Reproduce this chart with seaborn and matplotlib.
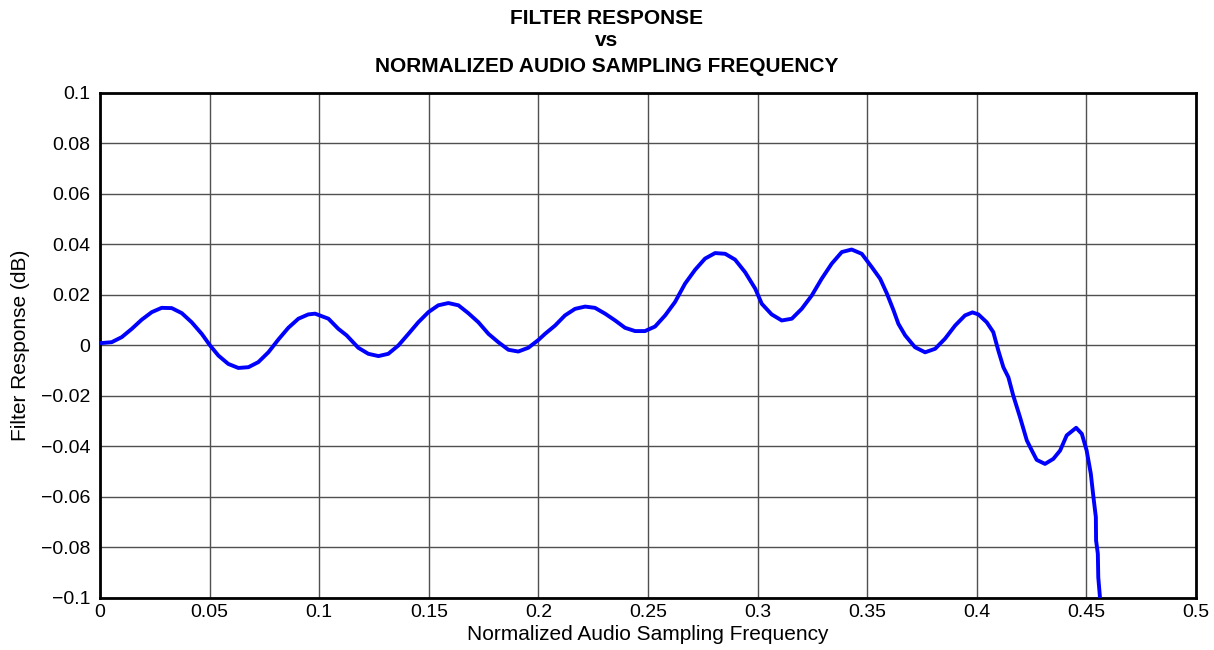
import pandas as pd
import matplotlib
matplotlib.use('Agg')
import matplotlib.pyplot as plt
import seaborn as sns

# Valores (frecuencia normalizada, respuesta en dB)
freq = [0.0000, 0.0053, 0.0099, 0.0145, 0.0190, 0.0236, 0.0281, 0.0327, 0.0373, 0.0418,
        0.0464, 0.0502, 0.0540, 0.0585, 0.0631, 0.0677, 0.0722, 0.0768, 0.0813, 0.0859,
        0.0905, 0.0950, 0.0981, 0.1042, 0.1087, 0.1125, 0.1178, 0.1224, 0.1270, 0.1315,
        0.1361, 0.1407, 0.1452, 0.1498, 0.1543, 0.1589, 0.1635, 0.1680, 0.1726, 0.1772,
        0.1817, 0.1863, 0.1908, 0.1954, 0.2000, 0.2030, 0.2076, 0.2121, 0.2167, 0.2213,
        0.2258, 0.2304, 0.2350, 0.2395, 0.2441, 0.2486, 0.2532, 0.2578, 0.2623, 0.2669,
        0.2715, 0.2760, 0.2806, 0.2852, 0.2897, 0.2943, 0.2989, 0.3019, 0.3064, 0.3110,
        0.3156, 0.3201, 0.3247, 0.3292, 0.3338, 0.3384, 0.3429, 0.3475, 0.3521, 0.3559,
        0.3590, 0.3620, 0.3642, 0.3673, 0.3718, 0.3764, 0.3810, 0.3855, 0.3901, 0.3946,
        0.3980, 0.4007, 0.4045, 0.4075, 0.4098, 0.4121, 0.4144, 0.4166, 0.4197, 0.4228,
        0.4251, 0.4273, 0.4311, 0.4349, 0.4380, 0.4410, 0.4453, 0.4479, 0.4501, 0.4520,
        0.4532, 0.4543, 0.4544, 0.4552, 0.4554, 0.4562, 0.4565]
response = [0.0009, 0.0013, 0.0033, 0.0066, 0.0102, 0.0132, 0.0149, 0.0148, 0.0128, 0.0092,
            0.0046, 0.0000, -0.0040, -0.0073, -0.0089, -0.0086, -0.0066, -0.0027, 0.0023, 0.0070,
            0.0106, 0.0123, 0.0126, 0.0106, 0.0066, 0.0040, -0.0009, -0.0033, -0.0042, -0.0033,
            0.0000, 0.0046, 0.0092, 0.0132, 0.0159, 0.0168, 0.0159, 0.0128, 0.0092, 0.0046,
            0.0013, -0.0017, -0.0024, -0.0009, 0.0022, 0.0046, 0.0079, 0.0119, 0.0145, 0.0154,
            0.0149, 0.0126, 0.0099, 0.0070, 0.0057, 0.0057, 0.0075, 0.0119, 0.0172, 0.0245,
            0.0300, 0.0344, 0.0366, 0.0363, 0.0340, 0.0290, 0.0225, 0.0165, 0.0123, 0.0099,
            0.0106, 0.0145, 0.0198, 0.0264, 0.0324, 0.0370, 0.0380, 0.0363, 0.0310, 0.0264,
            0.0205, 0.0139, 0.0086, 0.0040, -0.0007, -0.0027, -0.0013, 0.0027, 0.0079, 0.0119,
            0.0131, 0.0123, 0.0092, 0.0053, -0.0020, -0.0086, -0.0126, -0.0198, -0.0284, -0.0376,
            -0.0416, -0.0453, -0.0469, -0.0449, -0.0416, -0.0356, -0.0326, -0.0350, -0.0416, -0.0508,
            -0.0601, -0.0680, -0.0772, -0.0825, -0.0918, -0.1000, -0.1040]

x_ticks = [0, 0.05, 0.1, 0.15, 0.2, 0.25, 0.3, 0.35, 0.4, 0.45, 0.5]
x_labels = ['0', '0.05', '0.1', '0.15', '0.2', '0.25', '0.3', '0.35', '0.4', '0.45', '0.5']
y_ticks = [0.1, 0.08, 0.06, 0.04, 0.02, 0, -0.02, -0.04, -0.06, -0.08, -0.1]
y_labels = ['0.1', '0.08', '0.06', '0.04', '0.02', '0', '\u22120.02', '\u22120.04',
            '\u22120.06', '\u22120.08', '\u22120.1']
title_lines = ['FILTER RESPONSE', 'vs', 'NORMALIZED AUDIO SAMPLING FREQUENCY']

df = pd.DataFrame({'freq': freq, 'resp': response})

sns.set_theme(style='white', rc={'text.color': 'black', 'axes.labelcolor': 'black',
                                 'xtick.color': 'black', 'ytick.color': 'black'})
plt.rcParams['font.family'] = ['Liberation Sans', 'DejaVu Sans']

fig = plt.figure(figsize=(12.14, 6.5), dpi=100)
ax = fig.add_axes([0.0824, 0.080, 0.9028, 0.777])

sns.lineplot(data=df, x='freq', y='resp', sort=False, estimator=None,
             color='#0000FF', linewidth=2.8, ax=ax, zorder=3,
             solid_joinstyle='round', solid_capstyle='butt')

ax.set_xlim(0, 0.5)
ax.set_ylim(-0.1, 0.1)
ax.set_xticks(x_ticks)
ax.set_xticklabels(x_labels)
ax.set_yticks(y_ticks)
ax.set_yticklabels(y_labels)
ax.tick_params(axis='both', length=0, labelsize=14)
ax.tick_params(axis='x', pad=4)
ax.tick_params(axis='y', pad=7)
ax.grid(True, color='#505050', linewidth=1.0)

for s in ax.spines.values():
    s.set_color('black')
    s.set_linewidth(2)

ax.set_xlabel('Normalized Audio Sampling Frequency', fontsize=15)
ax.set_ylabel('Filter Response (dB)', fontsize=15)
ax.xaxis.set_label_coords(0.5, -0.054)
ax.yaxis.set_label_coords(-0.064, 0.5)

# título en tres líneas, centrado en la figura
for txt, ypix in zip(title_lines, [18, 41, 67]):
    fig.text(0.5, 1 - ypix / 650, txt, ha='center', va='center',
             fontsize=15, fontweight='bold')

fig.savefig('out.png', dpi=100)
